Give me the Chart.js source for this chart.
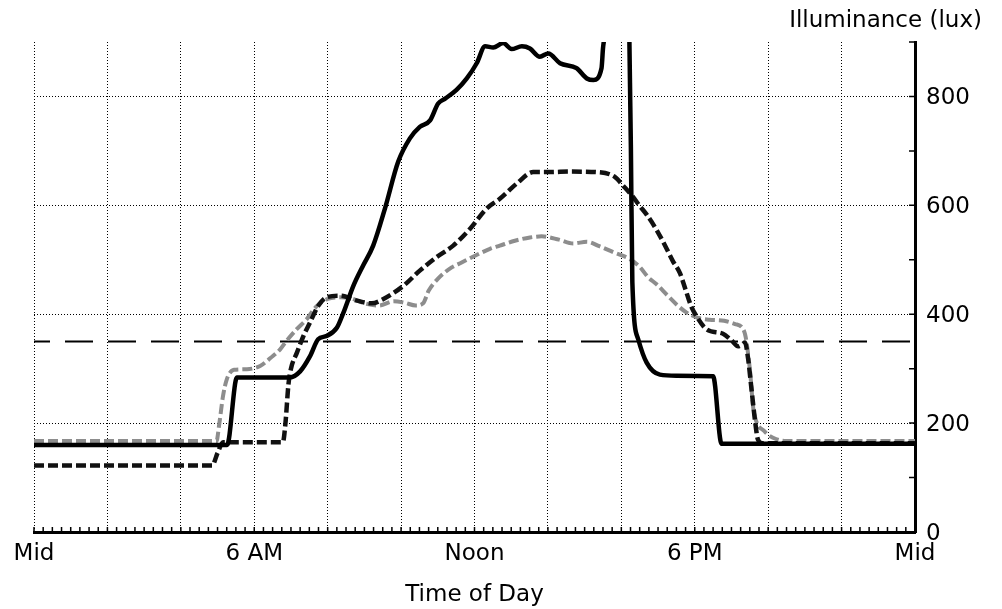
<!DOCTYPE html>
<html>
<head>
<meta charset="utf-8">
<title>Illuminance by time of day</title>
<script src="https://cdn.jsdelivr.net/npm/chart.js"></script>
<style>
  html, body { margin: 0; padding: 0; background: #fff; }
  #wrap { width: 1002px; height: 609px; }
</style>
</head>
<body>
<div id="wrap"><canvas id="luxChart" width="1002" height="609"></canvas></div>
<script>
// hour-of-day ticks and their names
const tickHours = [0, 6, 12, 18, 24];
const tickNames = ['Mid', '6 AM', 'Noon', '6 PM', 'Mid'];
const luxLabels = [0, 200, 400, 600, 800];

// solid black trace (values above 900 run off the top of the plot)
const solidHours = [0, 5.26, 5.53, 6.97, 7.25, 7.52, 7.74, 7.97, 8.25, 8.43,
  8.7, 8.97, 9.24, 9.56, 9.92, 10.24, 10.51, 10.79, 11.01, 11.2,
  11.51, 11.79, 12.06, 12.29, 12.51, 12.78, 13.01, 13.29, 13.51, 13.78,
  14.01, 14.33, 14.78, 15.06, 15.24, 15.46, 15.5, 15.55, 15.6, 16.17,
  16.22, 16.26, 16.3, 16.46, 16.69, 17.05, 17.5, 18.5, 18.73, 24];
const solidLux = [160, 160, 284, 284, 295, 323, 354, 360, 375, 403,
  452, 490, 526, 594, 680, 723, 744, 756, 787, 796,
  812, 833, 861, 892, 890, 898, 887, 892, 888, 873,
  879, 861, 852, 833, 830, 852, 888, 920, 1000, 1000,
  900, 707, 459, 354, 311, 289, 287, 286, 162, 162];

// heavy dashed trace
const dashHours = [0, 4.85, 5.0, 5.15, 6.78, 6.85, 6.93, 7.0, 7.16, 7.34,
  7.52, 7.74, 7.97, 8.34, 8.8, 9.2, 9.52, 10.06, 10.51, 10.97,
  11.42, 11.88, 12.33, 12.69, 13.15, 13.6, 14.06, 14.6, 15.33, 15.83,
  16.05, 16.3, 16.5, 16.7, 16.95, 17.2, 17.4, 17.6, 17.75, 17.9,
  18.05, 18.33, 18.77, 19.0, 19.18, 19.3, 19.37, 19.45, 19.55, 19.65,
  19.72, 19.85, 24];
const dashLux = [122, 122, 145, 165, 165, 200, 270, 300, 329, 360,
  385, 415, 431, 434, 425, 420, 428, 452, 480, 505,
  526, 557, 594, 612, 640, 661, 661, 662, 661, 652,
  636, 617, 599, 582, 556, 525, 498, 475, 445, 415,
  396, 372, 364, 352, 341, 345, 348, 320, 260, 200,
  170, 163, 163];

// grey hatched trace
const greyHours = [0, 4.97, 5.05, 5.15, 5.25, 5.45, 5.8, 6.16, 6.45, 6.7,
  6.88, 7.15, 7.43, 7.7, 8.0, 8.34, 8.6, 9.0, 9.4, 9.8,
  10.1, 10.4, 10.6, 10.75, 11.0, 11.38, 11.65, 12.0, 12.42, 12.69,
  13.1, 13.51, 13.83, 14.3, 14.69, 15.06, 15.4, 15.78, 16.24, 16.5,
  16.73, 16.96, 17.25, 17.55, 17.78, 18.1, 18.4, 18.8, 19.1, 19.35,
  19.5, 19.6, 19.9, 20.24, 20.5, 24];
const greyLux = [167, 167, 200, 250, 280, 298, 299, 305, 320, 335,
  351, 372, 391, 415, 428, 431, 430, 420, 416, 424,
  421, 416, 420, 443, 465, 486, 495, 507, 520, 526,
  535, 541, 543, 537, 530, 533, 525, 514, 501, 487,
  468, 455, 435, 415, 403, 393, 390, 388, 382, 368,
  300, 225, 185, 170, 167, 167];

// 350 lux reference level
const refHours = [0, 24];
const refLux = [350, 350];

const yTitle = 'Illuminance (lux)';
const xTitle = 'Time of Day';

const pts = (xs, ys) => xs.map((h, i) => ({ x: h, y: ys[i] }));

Chart.defaults.font.family = '"DejaVu Sans", sans-serif';
Chart.defaults.color = '#000';

// little inward tick marks on both axes + the axis caption at top right
const innerTicks = {
  id: 'innerTicks',
  afterDraw(chart) {
    const { ctx, chartArea: a, scales: { x, y } } = chart;
    ctx.save();
    ctx.strokeStyle = '#000';
    ctx.lineWidth = 1.5;
    ctx.beginPath();
    for (let t = 0; t <= 24; t += 0.25) {
      const px = x.getPixelForValue(t);
      ctx.moveTo(px, a.bottom);
      ctx.lineTo(px, a.bottom - 5);
    }
    for (let v = 0; v <= 900; v += 100) {
      const py = y.getPixelForValue(v);
      ctx.moveTo(a.right, py);
      ctx.lineTo(a.right - 6, py);
    }
    ctx.stroke();
    ctx.fillStyle = '#000';
    ctx.font = '23px "DejaVu Sans"';
    ctx.textAlign = 'right';
    ctx.textBaseline = 'alphabetic';
    ctx.fillText(yTitle, 982, 27);
    ctx.restore();
  }
};

new Chart(document.getElementById('luxChart').getContext('2d'), {
  type: 'line',
  data: {
    datasets: [
      {
        label: 'solid',
        data: pts(solidHours, solidLux),
        borderColor: '#000',
        borderWidth: 4.5,
        borderJoinStyle: 'round',
        borderCapStyle: 'round',
        cubicInterpolationMode: 'monotone'
      },
      {
        label: 'dashed',
        data: pts(dashHours, dashLux),
        borderColor: '#111',
        borderWidth: 4.5,
        borderDash: [10, 4],
        cubicInterpolationMode: 'monotone'
      },
      {
        label: 'grey',
        data: pts(greyHours, greyLux),
        borderColor: '#8d8d8d',
        borderWidth: 4,
        borderDash: [10, 4],
        cubicInterpolationMode: 'monotone'
      },
      {
        label: 'reference',
        data: pts(refHours, refLux),
        borderColor: '#000',
        borderWidth: 2,
        borderDash: [28, 15],
        borderDashOffset: 12
      }
    ]
  },
  options: {
    responsive: false,
    animation: false,
    devicePixelRatio: 1,
    elements: { point: { radius: 0 } },
    layout: { padding: { top: 42, left: 34, right: 0, bottom: 0 } },
    scales: {
      x: {
        type: 'linear',
        min: 0,
        max: 24,
        afterFit(s) { s.height = 77; },
        ticks: {
          stepSize: 2,
          autoSkip: false,
          maxRotation: 0,
          padding: 8,
          font: { size: 23 },
          callback: v => {
            const i = tickHours.indexOf(v);
            return i >= 0 ? tickNames[i] : '';
          }
        },
        grid: { drawTicks: false, color: '#000', lineWidth: 1 },
        border: { display: true, color: '#000', width: 3, dash: [1, 2] },
        title: { display: true, text: xTitle, font: { size: 23 }, padding: { top: 4, bottom: 0 } }
      },
      y: {
        type: 'linear',
        position: 'right',
        min: 0,
        max: 900,
        afterFit(s) { s.width = 87; },
        ticks: {
          stepSize: 100,
          autoSkip: false,
          padding: 11,
          labelOffset: 2,
          font: { size: 23 },
          callback: v => luxLabels.includes(v) ? String(v) : ''
        },
        grid: {
          drawTicks: false,
          lineWidth: 1,
          color: c => (c.tick && c.tick.value > 0 && luxLabels.includes(c.tick.value)) ? '#000' : 'rgba(0,0,0,0)'
        },
        border: { display: true, color: '#000', width: 3, dash: [1, 2] }
      }
    },
    plugins: {
      legend: { display: false },
      tooltip: { enabled: false }
    }
  },
  plugins: [innerTicks]
});
</script>
</body>
</html>
